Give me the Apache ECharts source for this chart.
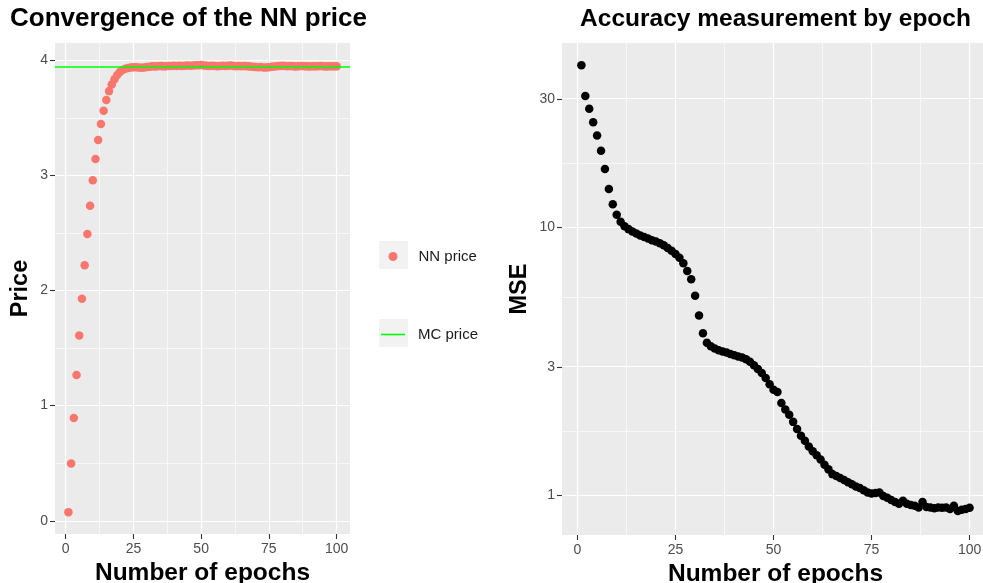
<!DOCTYPE html>
<html>
<head>
<meta charset="utf-8">
<script src="https://cdn.jsdelivr.net/npm/echarts@6/dist/echarts.min.js"></script>
<style>
html,body{margin:0;padding:0;background:#fff;}
#chart{width:983px;height:583px;}
</style>
</head>
<body>
<div id="chart"></div>
<script>
// ---- data ----
const epochs = Array.from({length: 100}, (_, i) => i + 1);
const nnPrice = [
  0.075, 0.497, 0.893, 1.266, 1.610, 1.928, 2.220, 2.490, 2.737, 2.958,
  3.142, 3.307, 3.446, 3.561, 3.654, 3.732, 3.790, 3.836, 3.872, 3.898,
  3.915, 3.926, 3.933, 3.937, 3.939, 3.940, 3.938, 3.936, 3.938, 3.942,
  3.944, 3.947, 3.945, 3.948, 3.950, 3.947, 3.949, 3.951, 3.950, 3.952,
  3.951, 3.953, 3.950, 3.952, 3.954, 3.953, 3.955, 3.956, 3.957, 3.958,
  3.955, 3.953, 3.951, 3.952, 3.950, 3.949, 3.951, 3.953, 3.950, 3.952,
  3.954, 3.951, 3.949, 3.950, 3.948, 3.950, 3.947, 3.945, 3.943, 3.941,
  3.940, 3.942, 3.938, 3.937, 3.940, 3.943, 3.946, 3.948, 3.950, 3.952,
  3.951, 3.949, 3.950, 3.947, 3.946, 3.948, 3.950, 3.949, 3.947, 3.946,
  3.948, 3.947, 3.949, 3.950, 3.948, 3.946, 3.947, 3.949, 3.948, 3.947
];
const mcPrice = 3.943;
const mse = [
  40.3, 30.9, 27.7, 24.7, 22.0, 19.3, 16.5, 13.9, 12.2, 11.15,
  10.5, 10.1, 9.85, 9.65, 9.48, 9.33, 9.2, 9.08, 8.96, 8.85,
  8.72, 8.58, 8.38, 8.18, 7.96, 7.7, 7.35, 6.87, 6.4, 5.56,
  4.69, 4.03, 3.71, 3.6, 3.53, 3.48, 3.44, 3.41, 3.37, 3.33,
  3.30, 3.27, 3.22, 3.15, 3.06, 2.96, 2.86, 2.74, 2.60, 2.48,
  2.43, 2.21, 2.09, 2.0, 1.88, 1.77, 1.67, 1.6, 1.52, 1.46,
  1.41, 1.36, 1.30, 1.25, 1.20, 1.18, 1.16, 1.14, 1.12, 1.10,
  1.08, 1.066, 1.045, 1.025, 1.015, 1.02, 1.025, 0.995, 0.98, 0.96,
  0.945, 0.93, 0.955, 0.93, 0.92, 0.915, 0.9, 0.945, 0.905, 0.9,
  0.895, 0.9, 0.898, 0.9, 0.89, 0.914, 0.874, 0.884, 0.89, 0.898
];
const xTicks = [0, 25, 50, 75, 100];
const xMinor = [12.5, 37.5, 62.5, 87.5];
const priceTicks = [0, 1, 2, 3, 4];
const priceMinor = [0.5, 1.5, 2.5, 3.5];
const mseTicks = [1, 3, 10, 30];

// ---- derived ----
const lg = v => Math.log10(v);
const mseTickPos = mseTicks.map(lg);
const mseMinorPos = [];
for (let i = 0; i < mseTickPos.length - 1; i++) mseMinorPos.push((mseTickPos[i] + mseTickPos[i + 1]) / 2);

const FONT = '"Liberation Sans", Arial, Helvetica, sans-serif';
const PANEL = '#EBEBEB';

function gridLines(xIdx, xMaj, xMin, yMaj, yMin) {
  const d = [];
  xMin.forEach(v => d.push({xAxis: v, lineStyle: {width: 0.6}}));
  yMin.forEach(v => d.push({yAxis: v, lineStyle: {width: 0.6}}));
  xMaj.forEach(v => d.push({xAxis: v, lineStyle: {width: 1.2}}));
  yMaj.forEach(v => d.push({yAxis: v, lineStyle: {width: 1.2}}));
  return {
    type: 'line', xAxisIndex: xIdx, yAxisIndex: xIdx, data: [], z: 1,
    silent: true, animation: false,
    markLine: {
      z: 1, zlevel: 0,
      silent: true, animation: false, symbol: ['none', 'none'],
      label: {show: false},
      lineStyle: {color: '#FFFFFF', type: 'solid', opacity: 1},
      emphasis: {disabled: true},
      data: d
    }
  };
}

function xAxisDef(idx) {
  return {
    type: 'value', gridIndex: idx, min: -3.95, max: 104.95,
    name: 'Number of epochs', nameLocation: 'middle', nameGap: 19,
    nameTextStyle: {fontFamily: FONT, fontWeight: 'bold', fontSize: 24.5, color: '#000', verticalAlign: 'top'},
    axisLine: {show: false, onZero: false},
    splitLine: {show: false},
    minorSplitLine: {show: false},
    axisTick: {show: true, customValues: xTicks, length: 5, lineStyle: {color: '#333333', width: 1.1}},
    axisLabel: {customValues: xTicks, color: '#4D4D4D', fontFamily: FONT, fontSize: 14, margin: 8}
  };
}

const chart = echarts.init(document.getElementById('chart'), null, {renderer: 'canvas'});
const option = {
  animation: false,
  backgroundColor: '#FFFFFF',
  textStyle: {fontFamily: FONT},
  graphic: [
    {type: 'text', x: 188.5, y: 19, style: {text: 'Convergence of the NN price', fontFamily: FONT, fontWeight: 'bold', fontSize: 26, fill: '#000', align: 'center', verticalAlign: 'middle'}},
    {type: 'text', x: 775.5, y: 19, style: {text: 'Accuracy measurement by epoch', fontFamily: FONT, fontWeight: 'bold', fontSize: 24.5, fill: '#000', align: 'center', verticalAlign: 'middle'}},
    {type: 'rect', shape: {x: 379, y: 241, width: 29, height: 28}, style: {fill: '#F2F2F2'}, z: -1},
    {type: 'rect', shape: {x: 379, y: 319, width: 29, height: 28}, style: {fill: '#F2F2F2'}, z: -1}
  ],
  legend: [
    {data: [{name: 'NN price', icon: 'circle'}], left: 388.5, top: 249, padding: 0, itemWidth: 9, itemHeight: 9,
     textStyle: {fontFamily: FONT, fontSize: 15, color: '#1A1A1A', padding: [0, 0, 0, 16]}, selectedMode: false},
    {data: [{name: 'MC price', icon: 'path://M0,0L24,0L24,1.6L0,1.6Z'}], left: 381, top: 327, padding: 0, itemWidth: 24, itemHeight: 2,
     textStyle: {fontFamily: FONT, fontSize: 15, color: '#1A1A1A', padding: [0, 0, 0, 8]}, selectedMode: false}
  ],
  grid: [
    {left: 55, top: 43, width: 295, height: 491, show: true, backgroundColor: PANEL, borderWidth: 0, containLabel: false, outerBoundsMode: 'none'},
    {left: 562, top: 43, width: 427, height: 492, show: true, backgroundColor: PANEL, borderWidth: 0, containLabel: false, outerBoundsMode: 'none'}
  ],
  xAxis: [xAxisDef(0), xAxisDef(1)],
  yAxis: [
    {
      type: 'value', gridIndex: 0, min: -0.115, max: 4.15,
      name: 'Price', nameLocation: 'middle', nameGap: 22, nameRotate: 90,
      nameTextStyle: {fontFamily: FONT, fontWeight: 'bold', fontSize: 23.5, color: '#000'},
      axisLine: {show: false, onZero: false}, splitLine: {show: false},
      axisTick: {show: true, customValues: priceTicks, length: 5, lineStyle: {color: '#333333', width: 1.1}},
      axisLabel: {customValues: priceTicks, color: '#4D4D4D', fontFamily: FONT, fontSize: 14, margin: 7}
    },
    {
      type: 'value', gridIndex: 1, min: -0.148, max: 1.688,
      name: 'MSE', nameLocation: 'middle', nameGap: 30, nameRotate: 90,
      nameTextStyle: {fontFamily: FONT, fontWeight: 'bold', fontSize: 23.5, color: '#000'},
      axisLine: {show: false, onZero: false}, splitLine: {show: false},
      axisTick: {show: true, customValues: mseTickPos, length: 5, lineStyle: {color: '#333333', width: 1.1}},
      axisLabel: {customValues: mseTickPos, color: '#4D4D4D', fontFamily: FONT, fontSize: 14, margin: 7,
        formatter: v => String(Math.round(Math.pow(10, v)))}
    }
  ],
  series: [
    gridLines(0, xTicks, xMinor, priceTicks, priceMinor),
    gridLines(1, xTicks, xMinor, mseTickPos, mseMinorPos),
    {
      name: 'NN price', type: 'scatter', xAxisIndex: 0, yAxisIndex: 0, z: 3,
      symbol: 'circle', symbolSize: 8.5,
      itemStyle: {color: '#F8766D', opacity: 1},
      data: epochs.map((e, i) => [e, nnPrice[i]])
    },
    {
      name: 'MC price', type: 'line', xAxisIndex: 0, yAxisIndex: 0, z: 4, data: [],
      itemStyle: {color: '#00FF00'}, lineStyle: {color: '#00FF00'},
      markLine: {
        z: 5,
        silent: true, symbol: ['none', 'none'], label: {show: false},
        lineStyle: {color: '#00FF00', width: 1.6, type: 'solid'},
        emphasis: {disabled: true},
        data: [{yAxis: mcPrice}]
      }
    },
    {
      name: 'MSE', type: 'scatter', xAxisIndex: 1, yAxisIndex: 1, z: 3,
      symbol: 'circle', symbolSize: 8.5,
      itemStyle: {color: '#000000', opacity: 1},
      data: epochs.map((e, i) => [e, lg(mse[i])])
    }
  ]
};
chart.setOption(option);
</script>
</body>
</html>
